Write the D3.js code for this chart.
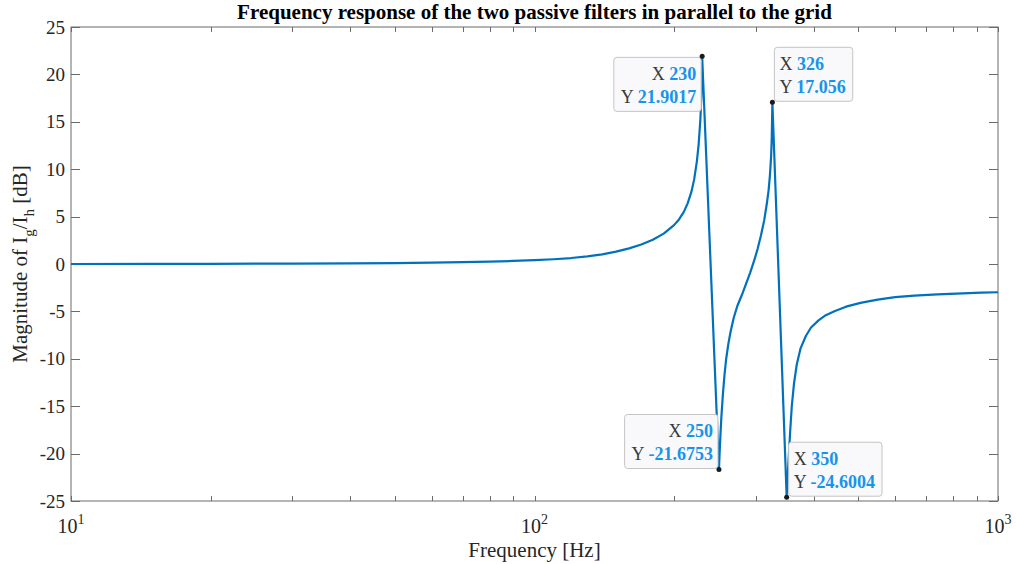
<!DOCTYPE html>
<html>
<head>
<meta charset="utf-8">
<script src="https://cdn.jsdelivr.net/npm/d3@7/dist/d3.min.js"></script>
<style>
  html, body { margin: 0; padding: 0; background: #ffffff; }
  svg { display: block; }
  text { font-family: "Liberation Serif", "Times New Roman", serif; }
</style>
</head>
<body>
<svg id="chart" width="1016" height="564"></svg>
<script>
// Frequency samples [Hz] and magnitude of Ig/Ih [dB]
const freqHz = [
  10, 15, 20, 30, 40, 50, 60, 70, 80, 90, 100, 110, 120, 130, 140, 150,
  160, 170, 180, 190, 200, 205, 210, 214, 218, 221, 224, 226, 228, 229, 230,
  250, 251, 252, 253, 255, 257, 259, 262, 265, 269, 274, 280, 286, 292, 298,
  303, 308, 313, 317, 320, 322, 324, 325, 326,
  350, 353, 356, 359, 363, 368, 375, 385, 395, 410, 425, 445, 470, 505, 550,
  600, 660, 740, 840, 920, 1000
];
const magDb = [
  0.00, 0.01, 0.02, 0.04, 0.07, 0.10, 0.14, 0.19, 0.25, 0.32, 0.40, 0.50, 0.63, 0.80, 1.02, 1.30,
  1.65, 2.05, 2.55, 3.20, 4.10, 4.70, 5.50, 6.40, 7.60, 8.90, 10.8, 12.6, 15.3, 17.6, 21.9017,
  -21.6753, -19.6, -17.8, -16.2, -13.7, -11.7, -10.1, -8.4, -7.1, -5.7, -4.4, -3.3, -2.1, -0.9, 0.4,
  1.6, 3.0, 4.6, 6.3, 7.8, 9.3, 11.4, 13.3, 17.056,
  -24.6004, -21.0, -17.8, -15.0, -12.6, -10.6, -8.9, -7.6, -6.7, -5.95, -5.4, -4.95, -4.5, -4.1, -3.75,
  -3.5, -3.33, -3.2, -3.1, -3.03, -2.98
];

// Data tips
const tipFreq = [230, 326, 250, 350];
const tipMag = [21.9017, 17.056, -21.6753, -24.6004];

// Axis ticks
const yTicks = [-25, -20, -15, -10, -5, 0, 5, 10, 15, 20, 25];
const xMajorTicks = [10, 100, 1000];
const xMajorExp = ["1", "2", "3"];

const titleText = "Frequency response of the two passive filters in parallel to the grid";
const xLabelText = "Frequency [Hz]";

const svg = d3.select("#chart");
const plotL = 71, plotR = 998, plotT = 27, plotB = 501;

const x = d3.scaleLog().domain([10, 1000]).range([plotL, plotR]);
const y = d3.scaleLinear().domain([-25, 25]).range([plotB, plotT]);

const axisColor = "#6b6b6b";
const textColor = "#262626";

// Minor ticks of the log axis (2..9 per decade)
const xMinorTicks = [];
for (let d = 10; d < 1000; d *= 10) {
  for (let k = 2; k <= 9; k++) xMinorTicks.push(d * k);
}

svg.append("defs").append("clipPath").attr("id", "plotClip")
  .append("rect").attr("x", plotL).attr("y", plotT - 2)
  .attr("width", plotR - plotL).attr("height", plotB - plotT + 4);

// Axis box
svg.append("rect")
  .attr("x", plotL).attr("y", plotT)
  .attr("width", plotR - plotL).attr("height", plotB - plotT)
  .attr("fill", "none").attr("stroke", axisColor).attr("stroke-width", 1);

// Ticks (inward) on all four sides
const tickG = svg.append("g").attr("stroke", axisColor).attr("stroke-width", 1);
const yTickLen = 9, xTickLen = 5;
yTicks.forEach(v => {
  const yy = Math.round(y(v)) + 0.5;
  tickG.append("line").attr("x1", plotL).attr("x2", plotL + yTickLen).attr("y1", yy).attr("y2", yy);
  tickG.append("line").attr("x1", plotR).attr("x2", plotR - yTickLen).attr("y1", yy).attr("y2", yy);
});
xMajorTicks.concat(xMinorTicks).forEach(v => {
  const xx = Math.round(x(v)) + 0.5;
  tickG.append("line").attr("x1", xx).attr("x2", xx).attr("y1", plotB).attr("y2", plotB - xTickLen);
  tickG.append("line").attr("x1", xx).attr("x2", xx).attr("y1", plotT).attr("y2", plotT + xTickLen);
});

// Y tick labels
svg.append("g").selectAll("text").data(yTicks).join("text")
  .attr("x", plotL - 6).attr("y", d => y(d) + 6.5)
  .attr("text-anchor", "end")
  .attr("font-size", 19).attr("fill", textColor)
  .text(d => d);

// X tick labels 10^n
const xl = svg.append("g").selectAll("text").data(xMajorTicks).join("text")
  .attr("x", d => x(d)).attr("y", 533)
  .attr("text-anchor", "middle")
  .attr("font-size", 20).attr("fill", textColor);
xl.append("tspan").text("10");
xl.append("tspan").attr("dy", -9).attr("font-size", 14).text((d, i) => xMajorExp[i]);

// Title
svg.append("text")
  .attr("x", (plotL + plotR) / 2).attr("y", 19)
  .attr("text-anchor", "middle")
  .attr("font-size", 21).attr("font-weight", "bold").attr("fill", "#000")
  .text(titleText);

// X label
svg.append("text")
  .attr("x", (plotL + plotR) / 2).attr("y", 557)
  .attr("text-anchor", "middle")
  .attr("font-size", 21).attr("fill", textColor)
  .text(xLabelText);

// Y label with subscripts
const yl = svg.append("text")
  .attr("transform", `translate(27,${(plotT + plotB) / 2}) rotate(-90)`)
  .attr("text-anchor", "middle")
  .attr("font-size", 21).attr("fill", textColor);
yl.append("tspan").text("Magnitude of I");
yl.append("tspan").attr("dy", 7).attr("font-size", 15).text("g");
yl.append("tspan").attr("dy", -7).text("/I");
yl.append("tspan").attr("dy", 7).attr("font-size", 15).text("h");
yl.append("tspan").attr("dy", -7).text(" [dB]");

// Response curve
const pts = freqHz.map((f, i) => [f, magDb[i]]);
svg.append("path")
  .datum(pts)
  .attr("clip-path", "url(#plotClip)")
  .attr("fill", "none")
  .attr("stroke", "#0072bd")
  .attr("stroke-width", 2.2)
  .attr("stroke-linejoin", "round")
  .attr("d", d3.line().x(d => x(d[0])).y(d => y(d[1])));

// Data tips: box placement relative to the marker
const tipPlace = [
  { hx: -1, vy: 1, alignRight: true },   // box below-left of marker
  { hx: 1, vy: -1, alignRight: false },  // box above-right
  { hx: -1, vy: -1, alignRight: true },  // box above-left
  { hx: 1, vy: -1, alignRight: false }   // box above-right
];
const valueColor = "#1794ea";
const boxH = 54;

tipFreq.forEach((f, i) => {
  const px = x(f), py = y(tipMag[i]);
  const p = tipPlace[i];
  const g = svg.append("g");
  const rect = g.append("rect")
    .attr("fill", "#f9f9fb").attr("stroke", "#c4c4c4")
    .attr("stroke-width", 1).attr("rx", 3);
  const t1 = g.append("text").attr("font-size", 18);
  t1.append("tspan").attr("fill", "#3a3a3a").text("X ");
  t1.append("tspan").attr("fill", valueColor).attr("font-weight", "bold").text(String(f));
  const t2 = g.append("text").attr("font-size", 18);
  t2.append("tspan").attr("fill", "#3a3a3a").text("Y ");
  t2.append("tspan").attr("fill", valueColor).attr("font-weight", "bold").text(String(tipMag[i]));

  const w = Math.max(t1.node().getComputedTextLength(), t2.node().getComputedTextLength()) + 12;
  const bx = p.hx < 0 ? px - 1 - w : px + 2;
  const by = p.vy > 0 ? py + 1 : py - 1 - boxH;
  rect.attr("x", bx).attr("y", by).attr("width", w).attr("height", boxH);
  const tx = p.alignRight ? bx + w - 5 : bx + 5;
  const anchor = p.alignRight ? "end" : "start";
  t1.attr("x", tx).attr("y", by + 22.5).attr("text-anchor", anchor);
  t2.attr("x", tx).attr("y", by + 45.5).attr("text-anchor", anchor);

  svg.append("circle").attr("cx", px).attr("cy", py).attr("r", 2.5).attr("fill", "#1a1a1a");
});
</script>
</body>
</html>
